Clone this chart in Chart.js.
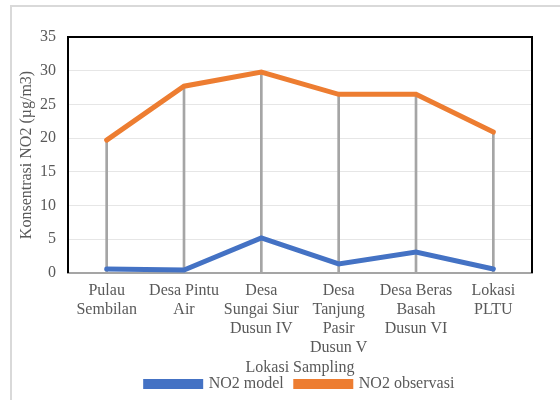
<!DOCTYPE html>
<html>
<head>
<meta charset="utf-8">
<script src="https://cdn.jsdelivr.net/npm/chart.js@4.4.1/dist/chart.umd.min.js"></script>
<style>
  body { margin: 0; background: #fff; }
  #wrap { position: relative; width: 560px; height: 400px; overflow: hidden; }
  #frame { position: absolute; left: 10px; top: 5px; width: 600px; height: 420px; border: 2px solid #d9d9d9; }
  #chart { position: absolute; left: 0; top: 0; }
</style>
</head>
<body>
<div id="wrap">
  <div id="frame"></div>
  <canvas id="chart" width="560" height="400"></canvas>
</div>
<script>
const lokasi = [
  ["Pulau", "Sembilan"],
  ["Desa Pintu", "Air"],
  ["Desa", "Sungai Siur", "Dusun IV"],
  ["Desa", "Tanjung", "Pasir", "Dusun V"],
  ["Desa Beras", "Basah", "Dusun VI"],
  ["Lokasi", "PLTU"]
];
const no2Model = [0.6, 0.45, 5.2, 1.35, 3.1, 0.6];
const no2Observasi = [19.7, 27.7, 29.8, 26.5, 26.5, 20.9];
const yTicks = [0, 5, 10, 15, 20, 25, 30, 35];

const textColor = "#595959";
const serif = "'Liberation Serif', 'Times New Roman', serif";

// drop lines go from the axis up to the highest series at each point
const dropLines = no2Observasi.map((v, i) => [0, Math.max(v, no2Model[i])]);

const plotBorder = {
  id: "plotBorder",
  beforeDatasetsDraw(chart) {
    const { ctx, chartArea: a } = chart;
    ctx.save();
    ctx.strokeStyle = "#000";
    ctx.lineWidth = 2;
    ctx.beginPath();
    ctx.moveTo(a.left, a.bottom);
    ctx.lineTo(a.left, a.top);
    ctx.lineTo(a.right, a.top);
    ctx.lineTo(a.right, a.bottom);
    ctx.stroke();
    ctx.restore();
  }
};

new Chart(document.getElementById("chart"), {
  data: {
    labels: lokasi,
    datasets: [
      {
        type: "line",
        label: "NO2 model",
        data: no2Model,
        borderColor: "#4472c4",
        backgroundColor: "#4472c4",
        borderWidth: 5,
        borderCapStyle: "round",
        pointRadius: 0,
        tension: 0,
        order: 1
      },
      {
        type: "line",
        label: "NO2 observasi",
        data: no2Observasi,
        borderColor: "#ed7d31",
        backgroundColor: "#ed7d31",
        borderWidth: 5,
        borderCapStyle: "round",
        pointRadius: 0,
        tension: 0,
        order: 2
      },
      {
        type: "bar",
        label: "drop",
        data: dropLines,
        backgroundColor: "#a5a5a5",
        barThickness: 2,
        order: 3
      }
    ]
  },
  options: {
    responsive: false,
    animation: false,
    layout: { padding: { top: 37, right: 28, left: 0, bottom: -2 } },
    plugins: {
      legend: {
        position: "bottom",
        fullSize: false,
        labels: {
          filter: (item) => item.text !== "drop",
          boxWidth: 55,
          boxHeight: 5,
          padding: 12,
          color: textColor,
          font: { family: serif, size: 16 }
        }
      },
      tooltip: { enabled: false }
    },
    scales: {
      x: {
        grid: { display: false },
        border: { color: "#a5a5a5", width: 2 },
        ticks: {
          color: textColor,
          padding: 0,
          autoSkip: false,
          maxRotation: 0,
          font: { family: serif, size: 16 }
        },
        title: {
          display: true,
          text: "Lokasi Sampling",
          color: textColor,
          padding: { top: 0, bottom: -13 },
          font: { family: serif, size: 16 }
        },
        afterFit: (scale) => { scale.height = 91; }
      },
      y: {
        min: 0,
        max: 35,
        afterBuildTicks: (scale) => { scale.ticks = yTicks.map((v) => ({ value: v })); },
        grid: { color: "#e6e6e6", lineWidth: 1, drawTicks: false },
        border: { display: false },
        ticks: {
          color: textColor,
          padding: 12,
          font: { family: serif, size: 16 }
        },
        title: {
          display: true,
          text: "Konsentrasi NO2 (µg/m3)",
          color: textColor,
          padding: { top: 17, bottom: 0 },
          font: { family: serif, size: 16 }
        },
        afterFit: (scale) => { scale.width = 68; }
      }
    }
  },
  plugins: [plotBorder]
});
</script>
</body>
</html>
